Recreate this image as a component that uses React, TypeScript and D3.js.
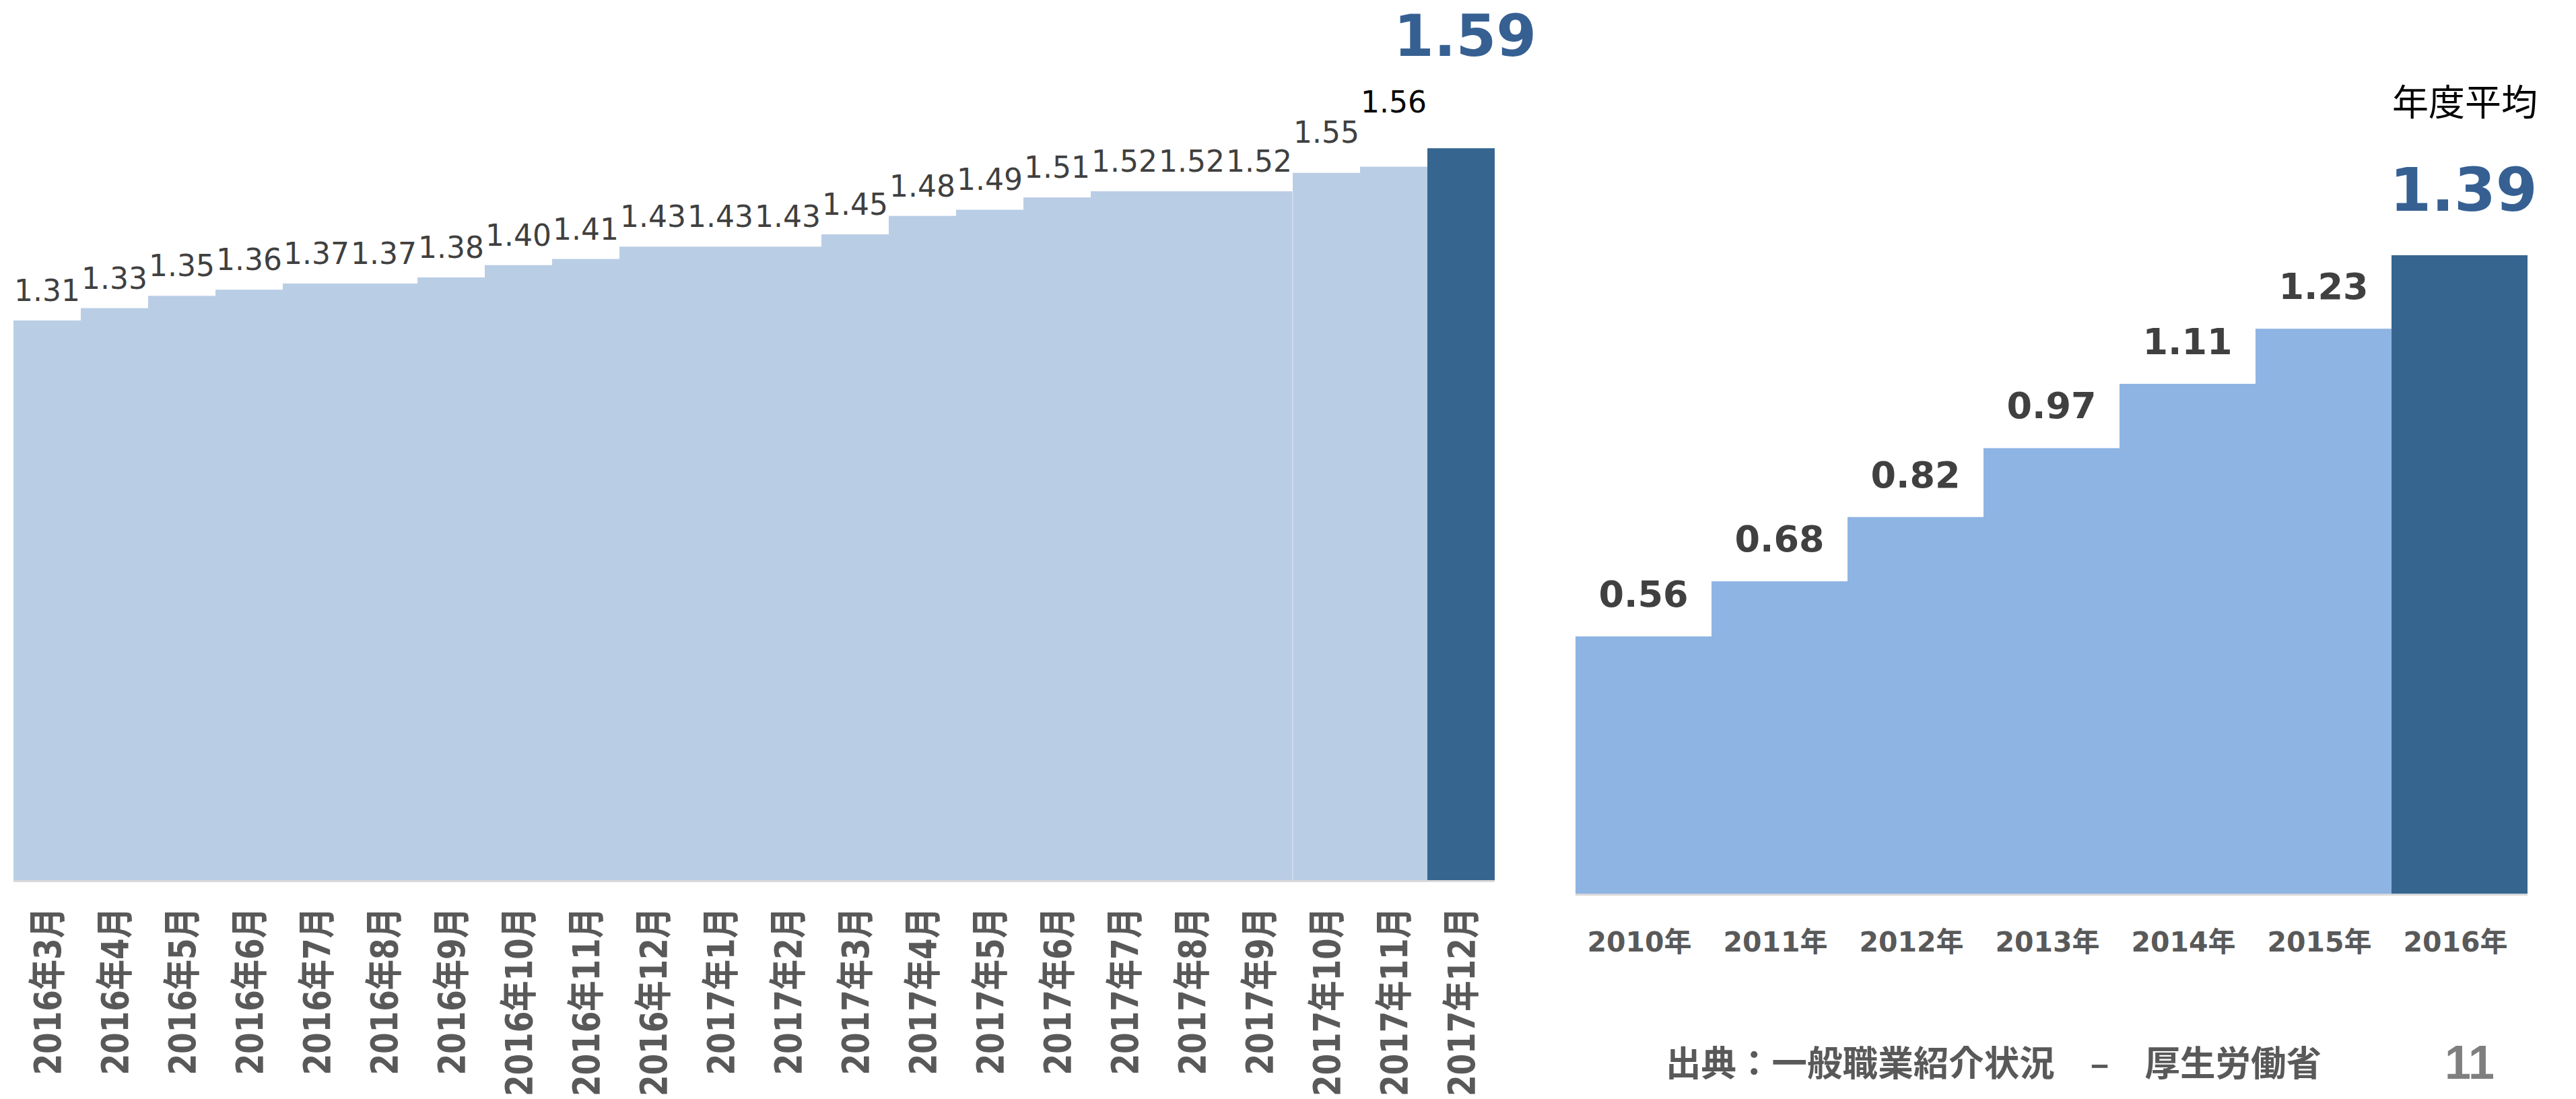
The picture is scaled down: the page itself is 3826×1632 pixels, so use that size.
import React from 'react';
import * as d3 from 'd3';

// monthly ratio (left panel)
const MONTHS = [
  '2016年3月', '2016年4月', '2016年5月', '2016年6月', '2016年7月', '2016年8月',
  '2016年9月', '2016年10月', '2016年11月', '2016年12月', '2017年1月', '2017年2月',
  '2017年3月', '2017年4月', '2017年5月', '2017年6月', '2017年7月', '2017年8月',
  '2017年9月', '2017年10月', '2017年11月', '2017年12月',
];
const MONTH_RATIOS = [
  1.31, 1.33, 1.35, 1.36, 1.37, 1.37, 1.38, 1.40, 1.41, 1.43, 1.43,
  1.43, 1.45, 1.48, 1.49, 1.51, 1.52, 1.52, 1.52, 1.55, 1.56, 1.59,
];

// yearly average (right panel)
const YEARS = ['2010年', '2011年', '2012年', '2013年', '2014年', '2015年', '2016年'];
const YEAR_RATIOS = [0.56, 0.68, 0.82, 0.97, 1.11, 1.23, 1.39];

const AVG_TITLE = '年度平均';
const SOURCE = '出典：一般職業紹介状況　–　厚生労働省';
const PAGE_NO = '11';

const W = 3826;
const H = 1632;

const LIGHT_LEFT = '#B9CDE5';
const LIGHT_RIGHT = '#8EB4E3';
const DARK = '#366690';
const HILITE_TEXT = '#366092';
const LABEL_GRAY = '#404040';
const AXIS_GRAY = '#595959';

// a couple of labels sit higher in the original slide
const LABEL_LIFT: Record<number, number> = { 19: 16, 20: 52 };

const LATIN = "'DejaVu Sans', 'Noto Sans CJK JP', sans-serif";
const CJK = "'Noto Sans CJK JP', 'DejaVu Sans', sans-serif";

export default function App() {
  // left chart
  const xL = d3.scaleBand<string>().domain(MONTHS).range([20, 2220]).padding(0);
  const yL = d3.scaleLinear().domain([0.4, 1.6]).range([1307, 211]);
  const lastM = MONTHS.length - 1;

  // right chart
  const xR = d3.scaleBand<string>().domain(YEARS).range([2340, 3754]).padding(0);
  const yR = d3.scaleLinear().domain([0, 1.5]).range([1327, 304]);
  const lastY = YEARS.length - 1;

  const fmt = d3.format('.2f');

  return (
    <svg
      width={W}
      height={H}
      style={{ position: 'absolute', left: 0, top: 0, background: '#fff' }}
    >
      <rect x={0} y={0} width={W} height={H} fill="#fff" />

      {/* left: monthly bars */}
      <g>
        {MONTHS.map((m, i) => (
          <rect
            key={m}
            x={xL(m)}
            y={yL(MONTH_RATIOS[i])}
            width={xL.bandwidth()}
            height={yL.range()[0] - yL(MONTH_RATIOS[i])}
            fill={i === lastM ? DARK : LIGHT_LEFT}
          />
        ))}
        {/* faint seam where the later months start */}
        <line
          x1={xL(MONTHS[19])}
          x2={xL(MONTHS[19])}
          y1={yL(MONTH_RATIOS[18])}
          y2={yL.range()[0]}
          stroke="#d3e0ee"
          strokeWidth={1.5}
        />
        <line
          x1={xL.range()[0]}
          x2={xL.range()[1]}
          y1={1308.5}
          y2={1308.5}
          stroke="#d9d9d9"
          strokeWidth={3}
        />
        {MONTHS.slice(0, lastM).map((m, i) => (
          <text
            key={'v' + m}
            x={(xL(m) as number) + xL.bandwidth() / 2}
            y={yL(MONTH_RATIOS[i]) - 29 - (LABEL_LIFT[i] || 0)}
            textAnchor="middle"
            fontFamily={LATIN}
            fontSize={44}
            fill={i === 20 ? '#000' : LABEL_GRAY}
          >
            {fmt(MONTH_RATIOS[i])}
          </text>
        ))}
        <text
          x={(xL(MONTHS[lastM]) as number) + xL.bandwidth() / 2 + 6}
          y={83}
          textAnchor="middle"
          fontFamily={LATIN}
          fontWeight="bold"
          fontSize={86}
          fill={HILITE_TEXT}
        >
          {fmt(MONTH_RATIOS[lastM])}
        </text>
        {MONTHS.map((m) => {
          const cx = (xL(m) as number) + xL.bandwidth() / 2;
          return (
            <text
              key={'t' + m}
              transform={`translate(${cx},1348) rotate(-90) scale(0.81,1)`}
              textAnchor="end"
              dy="0.36em"
              fontFamily={LATIN}
              fontWeight="bold"
              fontSize={56}
              fill={AXIS_GRAY}
            >
              {m}
            </text>
          );
        })}
      </g>

      {/* right: yearly bars */}
      <g>
        {YEARS.map((yr, i) => (
          <rect
            key={yr}
            x={xR(yr)}
            y={yR(YEAR_RATIOS[i])}
            width={xR.bandwidth()}
            height={yR(0) - yR(YEAR_RATIOS[i])}
            fill={i === lastY ? DARK : LIGHT_RIGHT}
          />
        ))}
        <line
          x1={xR.range()[0]}
          x2={xR.range()[1]}
          y1={1328.5}
          y2={1328.5}
          stroke="#d9d9d9"
          strokeWidth={3}
        />
        {YEARS.slice(0, lastY).map((yr, i) => (
          <text
            key={'v' + yr}
            x={(xR(yr) as number) + xR.bandwidth() / 2}
            y={yR(YEAR_RATIOS[i]) - 44}
            textAnchor="middle"
            fontFamily={LATIN}
            fontWeight="bold"
            fontSize={54}
            fill={LABEL_GRAY}
          >
            {fmt(YEAR_RATIOS[i])}
          </text>
        ))}
        <text
          x={(xR(YEARS[lastY]) as number) + xR.bandwidth() / 2 + 8}
          y={172}
          textAnchor="middle"
          fontFamily={CJK}
          fontSize={54}
          fill="#000"
        >
          {AVG_TITLE}
        </text>
        <text
          x={(xR(YEARS[lastY]) as number) + xR.bandwidth() / 2 + 6}
          y={313}
          textAnchor="middle"
          fontFamily={LATIN}
          fontWeight="bold"
          fontSize={89}
          fill={HILITE_TEXT}
        >
          {fmt(YEAR_RATIOS[lastY])}
        </text>
        {YEARS.map((yr) => (
          <text
            key={'t' + yr}
            x={(xR(yr) as number) + xR.bandwidth() / 2 - 6}
            y={1413}
            textAnchor="middle"
            fontFamily={LATIN}
            fontWeight="bold"
            fontSize={41}
            fill={AXIS_GRAY}
          >
            {yr}
          </text>
        ))}
      </g>

      {/* footer */}
      <text
        x={2474}
        y={1598}
        fontFamily={CJK}
        fontWeight="bold"
        fontSize={52}
        fill={AXIS_GRAY}
        textLength={974}
        lengthAdjust="spacingAndGlyphs"
      >
        {SOURCE}
      </text>
      <text
        x={3668}
        y={1602}
        textAnchor="middle"
        fontFamily="'Liberation Sans', Arial, sans-serif"
        fontWeight="bold"
        fontSize={70}
        fill="#7f7f7f"
      >
        {PAGE_NO}
      </text>
    </svg>
  );
}
